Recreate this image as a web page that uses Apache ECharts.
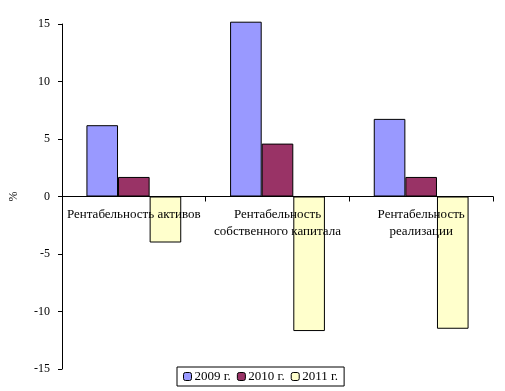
<!DOCTYPE html>
<html><head><meta charset="utf-8">
<script src="https://cdn.jsdelivr.net/npm/echarts@6/dist/echarts.min.js"></script>
<style>html,body{margin:0;padding:0;background:#fff}#c{width:505px;height:391px}</style>
</head><body><div id="c"></div>
<script>
const categories = ['Рентабельность активов', 'Рентабельность\nсобственного капитала', 'Рентабельность\nреализации'];
const seriesNames = ['2009 г.', '2010 г.', '2011 г.'];
const v2009 = [6.2, 15.2, 6.75];
const v2010 = [1.7, 4.6, 1.7];
const v2011 = [-4.0, -11.7, -11.5];
const colors = ['#9999FF', '#993366', '#FFFFCC'];
const font = '"Liberation Serif", "Times New Roman", serif';

const chart = echarts.init(document.getElementById('c'), null, {renderer: 'canvas'});
const data = [v2009, v2010, v2011];
const gridTop = 24, gridBottom = 22, H = 391;
const plotH = H - gridTop - gridBottom;
chart.setOption({
  animation: false,
  textStyle: {fontFamily: font},
  grid: {left: 62, right: 12, top: gridTop, bottom: gridBottom, containLabel: false},
  legend: {
    bottom: 5, left: 177,
    itemWidth: 8, itemHeight: 8, itemGap: 6,
    borderColor: '#000', borderWidth: 1, padding: [3, 6],
    textStyle: {fontFamily: font, fontSize: 13, color: '#000', padding: [0, 0, 0, -2]},
    data: seriesNames.map((n, i) => ({name: n, itemStyle: {color: colors[i], borderColor: '#000', borderWidth: 1}}))
  },
  xAxis: {
    type: 'category', data: categories, position: 'bottom', z: 10,
    offset: -plotH / 2,
    axisLine: {onZero: false, lineStyle: {color: '#000', width: 1}},
    axisTick: {show: true, length: 5, lineStyle: {color: '#000'}},
    axisLabel: {fontFamily: font, fontSize: 13, color: '#000', lineHeight: 17, margin: 10, interval: 0}
  },
  yAxis: {
    type: 'value', min: -15, max: 15, interval: 5,
    name: '%', nameLocation: 'middle', nameRotate: 90, nameGap: 42,
    nameTextStyle: {fontFamily: font, fontSize: 12, color: '#000'},
    splitLine: {show: false},
    axisLine: {show: true, lineStyle: {color: '#000'}},
    axisTick: {show: true, length: 4, lineStyle: {color: '#000'}},
    axisLabel: {fontFamily: font, fontSize: 12, color: '#000', margin: 12}
  },
  series: data.map((d, i) => ({
    name: seriesNames[i], type: 'bar', data: d,
    barGap: '0%', barCategoryGap: '34%', clip: false,
    itemStyle: {color: colors[i], borderColor: '#000', borderWidth: 1}
  }))
});
</script></body></html>
